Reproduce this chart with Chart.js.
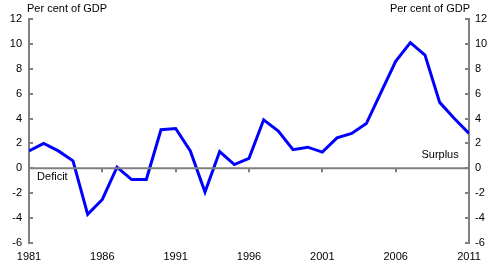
<!DOCTYPE html>
<html>
<head>
<meta charset="utf-8">
<script src="https://cdn.jsdelivr.net/npm/chart.js@4/dist/chart.umd.min.js"></script>
<style>
  html, body { margin: 0; padding: 0; background: #fff; }
  #wrap { width: 490px; height: 264px; }
</style>
</head>
<body>
<div id="wrap"><canvas id="chart"></canvas></div>
<script>
const years = [1981, 1982, 1983, 1984, 1985, 1986, 1987, 1988, 1989, 1990,
  1991, 1992, 1993, 1994, 1995, 1996, 1997, 1998, 1999, 2000,
  2001, 2002, 2003, 2004, 2005, 2006, 2007, 2008, 2009, 2010, 2011];
const balance = [1.4, 2.0, 1.4, 0.6, -3.7, -2.5, 0.1, -0.9, -0.9, 3.1,
  3.2, 1.4, -1.9, 1.35, 0.3, 0.8, 3.9, 3.0, 1.5, 1.7,
  1.3, 2.45, 2.8, 3.6, 6.1, 8.6, 10.1, 9.1, 5.3, 4.0, 2.8];
const yTicks = [-6, -4, -2, 0, 2, 4, 6, 8, 10, 12];
const xTicks = [1981, 1986, 1991, 1996, 2001, 2006, 2011];
const unitLabel = 'Per cent of GDP';
const notes = ['Deficit', 'Surplus'];

const FONT = 'Arial, "Liberation Sans", sans-serif';
const GREY = '#808080';

const decor = {
  id: 'decor',
  afterDatasetsDraw(chart) {
    const ctx = chart.ctx;
    const a = chart.chartArea;
    const x = chart.scales.x, y = chart.scales.y;
    const y0 = y.getPixelForValue(0);
    ctx.save();
    ctx.strokeStyle = GREY;
    ctx.lineWidth = 2;
    ctx.beginPath();
    ctx.moveTo(a.left, y0);
    ctx.lineTo(a.right, y0);
    // x ticks downward on zero line
    for (const t of xTicks) {
      const px = Math.round(x.getPixelForValue(t));
      ctx.moveTo(px, y0);
      ctx.lineTo(px, y0 + 4);
    }
    // inner ticks on both vertical axes
    for (const t of yTicks) {
      const py = Math.round(y.getPixelForValue(t));
      ctx.moveTo(a.left, py);
      ctx.lineTo(a.left + 4, py);
      ctx.moveTo(a.right, py);
      ctx.lineTo(a.right - 4, py);
    }
    ctx.stroke();
    ctx.fillStyle = '#000';
    ctx.font = '11px ' + FONT;
    ctx.textBaseline = 'middle';
    ctx.textAlign = 'left';
    ctx.fillText(unitLabel, a.left - 2, 9);
    ctx.textAlign = 'right';
    ctx.fillText(unitLabel, a.right + 1, 9);
    ctx.textAlign = 'left';
    ctx.fillText(notes[0], x.getPixelForValue(1981.55), y0 + 9);
    ctx.textAlign = 'right';
    ctx.fillText(notes[1], x.getPixelForValue(2010.3), y0 - 13);
    ctx.restore();
  }
};

new Chart(document.getElementById('chart'), {
  type: 'line',
  data: {
    datasets: [{
      data: years.map((yr, i) => ({ x: yr, y: balance[i] })),
      borderColor: '#0000ff',
      borderWidth: 3,
      pointRadius: 0,
      tension: 0,
      yAxisID: 'y'
    }]
  },
  plugins: [decor],
  options: {
    responsive: true,
    maintainAspectRatio: false,
    animation: false,
    layout: { padding: { top: 19, right: 0, left: 0, bottom: 0 } },
    plugins: { legend: { display: false }, tooltip: { enabled: false } },
    scales: {
      x: {
        type: 'linear',
        min: 1981, max: 2011,
        afterBuildTicks: s => { s.ticks = xTicks.map(v => ({ value: v })); },
        afterFit: s => { s.height = 21; },
        grid: { display: false, drawTicks: false },
        border: { display: false },
        ticks: { color: '#000', font: { size: 11, family: FONT }, padding: 7, maxRotation: 0, callback: v => String(v) }
      },
      y: {
        position: 'left',
        min: -6, max: 12,
        afterBuildTicks: s => { s.ticks = yTicks.map(v => ({ value: v })); },
        afterFit: s => { s.width = 29; },
        grid: { display: false, drawTicks: false },
        border: { display: true, color: GREY, width: 2 },
        ticks: { color: '#000', font: { size: 11, family: FONT }, padding: 7 }
      },
      y2: {
        position: 'right',
        min: -6, max: 12,
        afterBuildTicks: s => { s.ticks = yTicks.map(v => ({ value: v })); },
        afterFit: s => { s.width = 21; },
        grid: { display: false, drawTicks: false },
        border: { display: true, color: GREY, width: 2 },
        ticks: { color: '#000', font: { size: 11, family: FONT }, padding: 6 }
      }
    }
  }
});
</script>
</body>
</html>
